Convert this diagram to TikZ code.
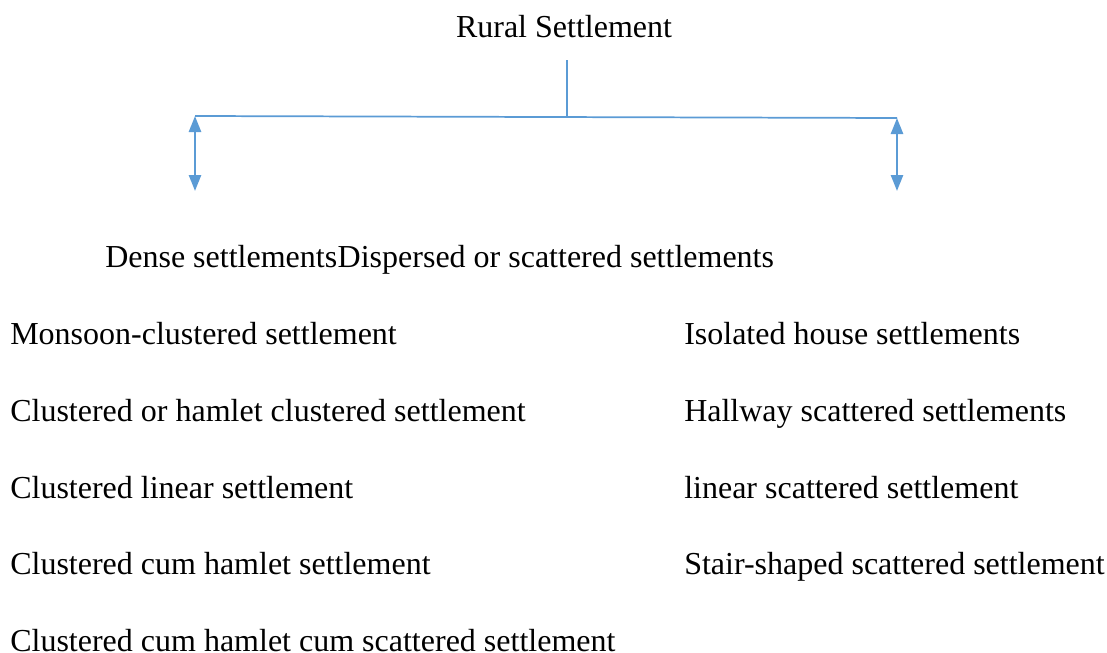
\documentclass[tikz,border=0pt]{standalone}
\usepackage{fontspec}
\setmainfont{Liberation Serif}
\usetikzlibrary{arrows.meta}
\definecolor{linkblue}{HTML}{5B9BD5}
\tikzset{
  item/.style={inner sep=0pt, anchor=base west, text depth=0pt, font=\fontsize{24}{28}\selectfont},
  split/.style={linkblue, line width=1.9pt, {Triangle[width=9pt,length=12pt]}-{Triangle[width=9pt,length=12pt]}}
}
\begin{document}
\begin{tikzpicture}[x=0.75pt, y=-0.75pt]
      \useasboundingbox (0,0) rectangle (1107,653);
      \node[item, anchor=base] (rural) at (564,37) {Rural Settlement};
      \node[item] (dense) at (105,267) {Dense settlements};
      \node[item] (dispersed) at (dense.base east) {Dispersed or scattered settlements};
      % left column
      \node[item] (l1) at (10,344) {Monsoon-clustered settlement};
      \node[item] (l2) at (10,421) {Clustered or hamlet clustered settlement};
      \node[item] (l3) at (10,498) {Clustered linear settlement};
      \node[item] (l4) at (10,574) {Clustered cum hamlet settlement};
      \node[item] (l5) at (10,651) {Clustered cum hamlet cum scattered settlement};
      % right column
      \node[item] (r1) at (684,344) {Isolated house settlements};
      \node[item] (r2) at (684,421) {Hallway scattered settlements};
      \node[item] (r3) at (684,498) {linear scattered settlement};
      \node[item] (r4) at (684,574) {Stair-shaped scattered settlement};
      % connectors
      \coordinate (top) at (567,60);
      \coordinate (mid) at (567,117);
      \coordinate (hl) at (195,116);
      \coordinate (hr) at (897,118);
      \coordinate (al) at (195,191);
      \coordinate (ar) at (897,191);
      \draw[linkblue, line width=0.9pt] (top) -- (mid);
      \draw[linkblue, line width=1.3pt] (hl) -- (hr);
      \draw[split] (hl) -- (al);
      \draw[split] (hr) -- (ar);
\end{tikzpicture}
\end{document}
